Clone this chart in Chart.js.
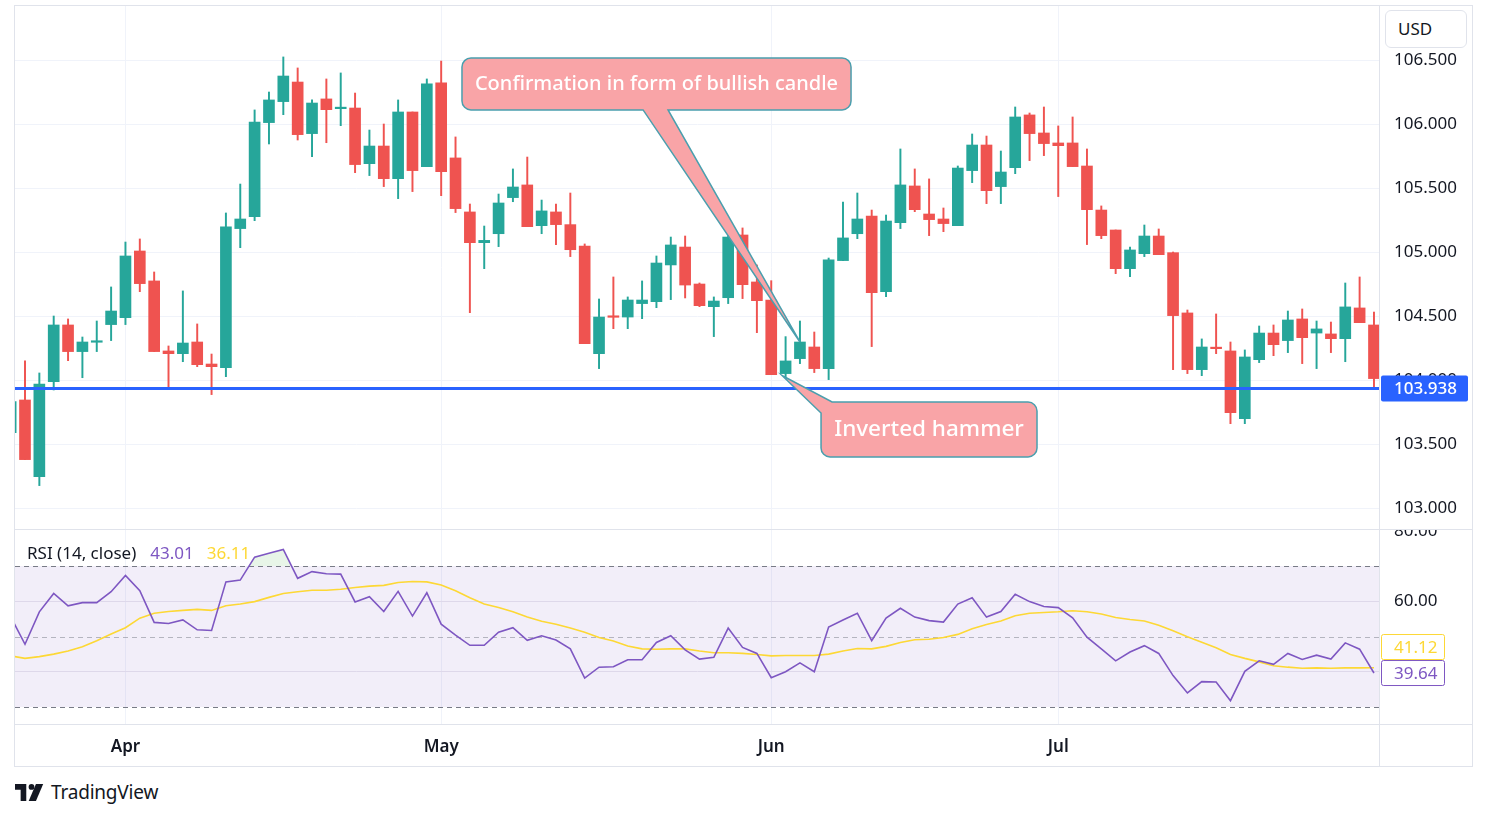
<!DOCTYPE html>
<html>
<head>
<meta charset="utf-8">
<script src="https://cdn.jsdelivr.net/npm/chart.js"></script>
<style>
html,body{margin:0;padding:0;background:#fff;width:1487px;height:819px;overflow:hidden;font-family:'Noto Sans',sans-serif;}
canvas{position:absolute;display:block;}
#priceCanvas{left:15px;top:6px;width:1457px;height:523px;}
#rsiCanvas{left:15px;top:530px;width:1457px;height:236px;}
.ln{position:absolute;background:#e0e3eb;pointer-events:none;}
#frame{position:absolute;left:14px;top:5px;width:1459px;height:762px;border:1px solid #e0e3eb;box-sizing:border-box;pointer-events:none;}
#usd{position:absolute;left:1385px;top:10px;width:82px;height:38px;box-sizing:border-box;border:1px solid #e0e3eb;border-radius:6px;background:#fff;font-size:17px;color:#131722;line-height:36px;padding-left:12px;}
#legend{position:absolute;left:27px;top:542px;font-size:17px;line-height:22px;color:#131722;white-space:nowrap;}
#legend .v1{color:#7e57c2;margin-left:14px;}
#legend .v2{color:#fdd835;margin-left:13px;}
#logo{position:absolute;left:15px;top:781px;height:22px;display:flex;align-items:center;}
#logo span{font-size:19px;color:#131722;margin-left:7px;letter-spacing:-0.2px;}
</style>
</head>
<body>
<canvas id="priceCanvas" width="1457" height="523"></canvas>
<canvas id="rsiCanvas" width="1457" height="236"></canvas>
<div id="frame"></div>
<div class="ln" style="left:14px;top:529px;width:1459px;height:1px;"></div>
<div class="ln" style="left:14px;top:724px;width:1459px;height:1px;"></div>
<div class="ln" style="left:1379px;top:5px;width:1px;height:761px;"></div>
<div id="usd">USD</div>
<div id="legend">RSI (14, close)<span class="v1" id="lv1"></span><span class="v2" id="lv2"></span></div>
<div id="logo">
<svg width="29" height="17" viewBox="0 0 36 21"><path d="M0 0H14V21H7V7H0Z" fill="#131722"/><circle cx="20.5" cy="3.6" r="3.6" fill="#131722"/><path d="M17 21L26 0H35L26 21Z" fill="#131722"/></svg>
<span>TradingView</span></div>

<script>
// ---------------- DATA ----------------
const dates = ['2024-03-19','2024-03-20','2024-03-21','2024-03-22','2024-03-25','2024-03-26','2024-03-27','2024-03-28',
'2024-04-01','2024-04-02','2024-04-03','2024-04-04','2024-04-05','2024-04-08','2024-04-09','2024-04-10','2024-04-11','2024-04-12',
'2024-04-15','2024-04-16','2024-04-17','2024-04-18','2024-04-19','2024-04-22','2024-04-23','2024-04-24','2024-04-25','2024-04-26',
'2024-04-29','2024-04-30',
'2024-05-01','2024-05-02','2024-05-03','2024-05-06','2024-05-07','2024-05-08','2024-05-09','2024-05-10','2024-05-13','2024-05-14',
'2024-05-15','2024-05-16','2024-05-17','2024-05-20','2024-05-21','2024-05-22','2024-05-23','2024-05-24','2024-05-27','2024-05-28',
'2024-05-29','2024-05-30','2024-05-31',
'2024-06-03','2024-06-04','2024-06-05','2024-06-06','2024-06-07','2024-06-10','2024-06-11','2024-06-12','2024-06-13','2024-06-14',
'2024-06-17','2024-06-18','2024-06-19','2024-06-20','2024-06-21','2024-06-24','2024-06-25','2024-06-26','2024-06-27','2024-06-28',
'2024-07-01','2024-07-02','2024-07-03','2024-07-04','2024-07-05','2024-07-08','2024-07-09','2024-07-10','2024-07-11','2024-07-12',
'2024-07-15','2024-07-16','2024-07-17','2024-07-18','2024-07-19','2024-07-22','2024-07-23','2024-07-24','2024-07-25','2024-07-26',
'2024-07-29','2024-07-30','2024-07-31'];

const open = [103.594,103.849,103.25,103.992,104.435,104.227,104.30,104.438,104.492,105.013,
104.779,104.232,104.211,104.302,104.130,104.102,105.188,105.281,106.016,106.18,
106.333,105.93,106.201,106.125,106.13,105.695,105.833,105.578,106.099,105.672,
106.326,105.74,105.318,105.078,105.148,105.43,105.529,105.211,105.318,105.219,
105.052,104.211,104.50,104.497,104.602,104.617,104.904,105.044,104.755,104.578,
104.648,105.138,104.771,104.63,104.055,104.172,104.263,104.094,104.938,105.148,
105.286,104.695,105.234,105.521,105.302,105.263,105.211,105.641,105.841,105.516,
105.664,106.076,105.935,105.857,105.857,105.677,105.333,105.177,104.875,104.992,
105.13,105.0,104.529,104.086,104.258,104.232,103.703,104.164,104.372,104.313,
104.482,104.372,104.365,104.328,104.568,104.435];

const high = [103.88,104.154,104.06,104.505,104.482,104.341,104.466,104.732,105.083,105.107,
104.849,104.271,104.701,104.443,104.208,105.31,105.536,106.115,106.255,106.529,
106.443,106.193,106.357,106.404,106.247,105.958,106.005,106.193,106.099,106.357,
106.497,105.904,105.38,105.208,105.458,105.654,105.747,105.411,105.38,105.466,
105.068,104.638,104.81,104.654,104.779,104.974,105.122,105.13,104.763,104.654,
105.154,105.193,104.904,104.781,104.344,104.466,104.38,104.958,105.396,105.466,
105.333,105.294,105.81,105.654,105.576,105.349,105.677,105.927,105.911,105.794,
106.138,106.091,106.138,105.99,106.06,105.81,105.365,105.177,105.044,105.216,
105.185,105.005,104.552,104.326,104.521,104.302,104.24,104.427,104.435,104.544,
104.56,104.466,104.458,104.763,104.81,104.536];

const low = [103.56,103.383,103.18,103.927,104.156,104.023,104.227,104.313,104.438,104.695,
104.227,103.932,104.148,104.109,103.891,104.031,105.039,105.25,105.849,106.078,
105.88,105.75,105.859,105.992,105.625,105.602,105.516,105.422,105.477,105.672,
105.445,105.313,104.531,104.875,105.047,105.398,105.203,105.148,105.063,104.969,
104.289,104.094,104.406,104.406,104.484,104.57,104.633,104.646,104.578,104.344,
104.602,104.641,104.375,104.047,104.023,104.133,104.063,104.008,104.938,105.109,
104.266,104.656,105.188,105.32,105.133,105.164,105.211,105.547,105.383,105.383,
105.617,105.719,105.758,105.438,105.672,105.063,105.109,104.836,104.813,104.969,
104.984,104.086,104.055,104.039,104.211,103.664,103.664,104.141,104.195,104.219,
104.133,104.094,104.219,104.148,104.453,103.935];

const close = [103.836,103.383,103.974,104.435,104.227,104.302,104.31,104.544,104.974,104.758,
104.227,104.211,104.294,104.125,104.109,105.201,105.263,106.021,106.193,106.38,
105.922,106.169,106.117,106.13,105.688,105.833,105.578,106.099,105.641,106.318,
105.633,105.344,105.078,105.096,105.388,105.513,105.203,105.326,105.219,105.023,
104.289,104.497,104.495,104.63,104.63,104.919,105.06,104.747,104.586,104.622,
105.122,104.75,104.625,104.047,104.154,104.302,104.094,104.943,105.115,105.263,
104.688,105.247,105.529,105.336,105.258,105.227,105.661,105.841,105.484,105.63,
106.06,105.93,105.852,105.836,105.672,105.336,105.133,104.875,105.021,105.13,
104.984,104.508,104.086,104.263,104.25,103.75,104.185,104.372,104.281,104.474,
104.336,104.404,104.328,104.576,104.453,104.016];

const rsi = [55.6,47.8,57.0,62.2,58.7,59.6,59.6,62.7,67.3,63.0,
54.0,53.7,54.7,51.9,51.7,65.5,66.0,72.5,73.6,74.7,
66.5,68.4,67.8,67.7,59.8,61.3,57.1,62.8,55.8,62.4,
53.5,50.4,47.5,47.5,51.2,52.5,48.9,50.2,49.0,46.5,
38.2,41.3,41.4,43.4,43.4,48.3,50.2,46.2,43.6,44.1,
52.4,46.9,45.2,38.3,40.0,42.5,40.0,52.7,54.7,56.6,
48.8,55.2,58.0,55.5,54.5,54.1,59.2,61.0,55.5,57.1,
62.0,59.9,58.5,58.2,55.3,49.8,46.5,43.1,45.6,47.4,
45.2,38.9,34.0,37.2,37.1,31.8,40.1,43.1,42.1,45.2,
43.5,44.7,43.6,48.2,46.4,39.64];

const rsiMa = [44.5,43.8,44.3,45.0,45.9,47.1,48.8,50.7,52.5,55.2,
56.6,57.1,57.4,57.7,57.4,58.7,59.2,59.9,61.1,62.2,
62.7,63.1,63.1,63.4,63.9,64.3,64.5,65.3,65.6,65.5,
64.6,63.0,61.0,59.2,58.2,57.0,55.5,54.3,53.5,52.4,
51.2,49.7,48.7,47.3,46.5,46.4,46.5,46.5,45.9,45.4,
45.4,45.2,44.9,44.5,44.6,44.6,44.6,45.0,45.9,46.6,
46.5,47.2,48.3,49.1,49.2,49.7,50.6,52.2,53.4,54.4,
55.9,56.6,56.8,57.0,57.3,57.0,56.4,55.4,54.8,54.4,
53.2,51.6,49.9,48.4,46.8,44.9,43.8,42.8,41.7,41.3,
41.0,41.1,41.0,41.1,41.1,41.12];

const priceTicks = [103.0,103.5,104.0,104.5,105.0,105.5,106.0,106.5];
const rsiTicks = [40,60,80];
const rsiLevels = [70,50,30];
const monthNames = ['Jan','Feb','Mar','Apr','May','Jun','Jul','Aug','Sep','Oct','Nov','Dec'];
const levelPrice = 103.938;
const legendValues = ['43.01','36.11'];

// ---------------- SETUP ----------------
document.getElementById('lv1').textContent = legendValues[0];
document.getElementById('lv2').textContent = legendValues[1];

const GREEN = '#26a69a', RED = '#ef5350';
const FONT = "'Noto Sans', sans-serif";
const idx = dates.map((d, i) => i);
const colors = idx.map(i => close[i] >= open[i] ? GREEN : RED);
const monthStarts = idx.filter(i => i > 0 && dates[i].slice(5,7) !== dates[i-1].slice(5,7));
const X_MIN = 0.303, X_MAX = 95.42;

function rr(ctx, x, y, w, h, r) {
  ctx.beginPath();
  ctx.moveTo(x + r, y); ctx.lineTo(x + w - r, y); ctx.arcTo(x + w, y, x + w, y + r, r);
  ctx.lineTo(x + w, y + h - r); ctx.arcTo(x + w, y + h, x + w - r, y + h, r);
  ctx.lineTo(x + r, y + h); ctx.arcTo(x, y + h, x, y + h - r, r);
  ctx.lineTo(x, y + r); ctx.arcTo(x, y, x + r, y, r); ctx.closePath();
}

const CALL_FILL = '#f9a4a7', CALL_EDGE = '#4a9fae';

const priceOverlay = {
  id: 'priceOverlay',
  afterDatasetsDraw(chart) {
    const ctx = chart.ctx, xs = chart.scales.x, ys = chart.scales.y;
    const px = v => xs.getPixelForValue(v), py = v => ys.getPixelForValue(v);
    ctx.save();
    ctx.lineWidth = 1.5; ctx.strokeStyle = CALL_EDGE; ctx.fillStyle = CALL_FILL;
    // Callout 1: confirmation, pointer from bottom edge to candle 55
    {
      const L = px(31.45), R = px(58.56), T = py(106.521), B = py(106.115), r = 9;
      const bl = px(44.07), br = px(45.81), tx = px(55), ty = py(close[55]);
      ctx.beginPath();
      ctx.moveTo(L + r, T); ctx.lineTo(R - r, T); ctx.arcTo(R, T, R, T + r, r);
      ctx.lineTo(R, B - r); ctx.arcTo(R, B, R - r, B, r);
      ctx.lineTo(br, B); ctx.lineTo(tx, ty); ctx.lineTo(bl, B);
      ctx.lineTo(L + r, B); ctx.arcTo(L, B, L, B - r, r);
      ctx.lineTo(L, T + r); ctx.arcTo(L, T, L + r, T, r); ctx.closePath();
      ctx.fill(); ctx.stroke();
      ctx.fillStyle = '#ffffff'; ctx.font = '500 20px ' + FONT;
      ctx.textAlign = 'center'; ctx.textBaseline = 'middle';
      ctx.fillText('Confirmation in form of bullish candle', (L + R) / 2, (T + B) / 2);
    }
    ctx.fillStyle = CALL_FILL;
    // Callout 2: inverted hammer, pointer from top-left corner to candle 54 low
    {
      const L = px(56.47), R = px(71.52), T = py(103.833), B = py(103.404), r = 9;
      const topX = px(57.24), leftY = py(103.747), tx = px(53.75), ty = py(104.04);
      ctx.beginPath();
      ctx.moveTo(topX, T); ctx.lineTo(R - r, T); ctx.arcTo(R, T, R, T + r, r);
      ctx.lineTo(R, B - r); ctx.arcTo(R, B, R - r, B, r);
      ctx.lineTo(L + r, B); ctx.arcTo(L, B, L, B - r, r);
      ctx.lineTo(L, leftY); ctx.lineTo(tx, ty); ctx.closePath();
      ctx.fill(); ctx.stroke();
      ctx.fillStyle = '#ffffff'; ctx.font = '500 22.5px ' + FONT;
      ctx.textAlign = 'center'; ctx.textBaseline = 'middle';
      ctx.fillText('Inverted hammer', (L + R) / 2, (T + B) / 2);
    }
    ctx.restore();
  },
  afterDraw(chart) {
    const ctx = chart.ctx, ys = chart.scales.y, area = chart.chartArea;
    const y = ys.getPixelForValue(levelPrice);
    ctx.save();
    ctx.fillStyle = '#2962ff';
    rr(ctx, area.right + 1, y - 13, 87, 26, 2); ctx.fill();
    ctx.fillStyle = '#ffffff'; ctx.font = '500 17px ' + FONT;
    ctx.textAlign = 'left'; ctx.textBaseline = 'middle';
    ctx.fillText(levelPrice.toFixed(3), area.right + 14, y + 1);
    ctx.restore();
  }
};

const rsiOverlay = {
  id: 'rsiOverlay',
  beforeDatasetsDraw(chart) {
    const ctx = chart.ctx, ys = chart.scales.y, a = chart.chartArea;
    const yTop = ys.getPixelForValue(rsiLevels[0]), yBot = ys.getPixelForValue(rsiLevels[2]);
    ctx.save();
    ctx.fillStyle = 'rgba(126,87,194,0.1)';
    ctx.fillRect(a.left, yTop, a.right - a.left, yBot - yTop);
    ctx.lineWidth = 1; ctx.setLineDash([5, 4]);
    rsiLevels.forEach((lv, k) => {
      const y = Math.round(ys.getPixelForValue(lv)) + 0.5;
      ctx.strokeStyle = k === 1 ? 'rgba(120,123,134,0.5)' : '#787b86';
      ctx.beginPath(); ctx.moveTo(a.left, y); ctx.lineTo(a.right, y); ctx.stroke();
    });
    ctx.restore();
  },
  afterDraw(chart) {
    const ctx = chart.ctx, ys = chart.scales.y, a = chart.chartArea;
    const last = rsi.length - 1;
    const yP = ys.getPixelForValue(rsi[last]);
    let yY = ys.getPixelForValue(rsiMa[last]);
    if (Math.abs(yY - yP) < 26) yY = yP - 26;
    const boxes = [[yY, rsiMa[last], '#fdd835'], [yP, rsi[last], '#7e57c2']];
    ctx.save();
    boxes.forEach(([y, v, c]) => {
      ctx.fillStyle = '#ffffff'; ctx.strokeStyle = c; ctx.lineWidth = 1;
      rr(ctx, a.right + 1.5, y - 12.5, 63, 25, 2); ctx.fill(); ctx.stroke();
      ctx.fillStyle = c; ctx.font = '17px ' + FONT;
      ctx.textAlign = 'left'; ctx.textBaseline = 'middle';
      ctx.fillText(v.toFixed(2), a.right + 14, y + 1);
    });
    ctx.restore();
  }
};

const GRID = '#f0f3fa';

new Chart(document.getElementById('priceCanvas'), {
  type: 'bar',
  data: {
    datasets: [
      { label: 'wick', data: idx.map(i => ({ x: i, y: [low[i], high[i]] })), backgroundColor: colors,
        barThickness: 1.3, grouped: false, clip: 0, order: 3 },
      { label: 'body', data: idx.map(i => ({ x: i, y: [open[i], close[i]] })), backgroundColor: colors,
        barThickness: 11, minBarLength: 1.5, grouped: false, clip: 0, order: 2 },
      { type: 'line', label: 'level', data: [{ x: -5, y: levelPrice }, { x: 100, y: levelPrice }],
        borderColor: '#2962ff', borderWidth: 3, pointRadius: 0, clip: 0, order: 1 }
    ]
  },
  options: {
    responsive: false, animation: false, devicePixelRatio: window.devicePixelRatio || 1,
    layout: { padding: 0 },
    plugins: { legend: { display: false }, tooltip: { enabled: false } },
    scales: {
      x: { type: 'linear', min: X_MIN, max: X_MAX, offset: false,
        grid: { color: GRID, drawTicks: false, offset: false }, border: { display: false },
        ticks: { display: false },
        afterBuildTicks: s => { s.ticks = monthStarts.map(v => ({ value: v })); },
        afterFit: s => { s.height = 0; s.paddingLeft = 0; s.paddingRight = 0; } },
      y: { position: 'right', min: 102.841, max: 106.927,
        grid: { color: GRID, drawTicks: false }, border: { display: false },
        ticks: { padding: 14, color: '#131722', font: { family: FONT, size: 17 }, callback: v => Number(v).toFixed(3) },
        afterBuildTicks: s => { s.ticks = priceTicks.map(v => ({ value: v })); },
        afterFit: s => { s.width = 92; s.paddingTop = 0; s.paddingBottom = 0; } }
    }
  },
  plugins: [priceOverlay]
});

new Chart(document.getElementById('rsiCanvas'), {
  type: 'line',
  data: {
    datasets: [
      { label: 'RSI', data: idx.map(i => ({ x: i, y: rsi[i] })), borderColor: '#7e57c2', borderWidth: 1.6,
        pointRadius: 0, tension: 0, clip: 0, order: 1,
        fill: { target: { value: 70 }, above: 'rgba(76,175,80,0.13)', below: 'rgba(0,0,0,0)' } },
      { label: 'RSI MA', data: idx.map(i => ({ x: i, y: rsiMa[i] })), borderColor: '#fdd835', borderWidth: 1.6,
        pointRadius: 0, tension: 0, clip: 0, order: 2, fill: false }
    ]
  },
  options: {
    responsive: false, animation: false, devicePixelRatio: window.devicePixelRatio || 1,
    layout: { padding: 0 },
    plugins: { legend: { display: false }, tooltip: { enabled: false } },
    scales: {
      x: { type: 'linear', min: X_MIN, max: X_MAX, offset: false,
        grid: { color: GRID, drawTicks: false, offset: false }, border: { display: false },
        ticks: { padding: 13, color: '#131722', maxRotation: 0, autoSkip: false,
          font: { family: FONT, size: 17, weight: '600' },
          callback: v => monthNames[parseInt(dates[v].slice(5,7), 10) - 1] },
        afterBuildTicks: s => { s.ticks = monthStarts.map(v => ({ value: v })); },
        afterFit: s => { s.height = 42; s.paddingLeft = 0; s.paddingRight = 0; } },
      y: { position: 'right', min: 25.18, max: 80.21,
        grid: { color: c => (c.tick && c.tick.value === 80) ? 'rgba(0,0,0,0)' : '#e9e7ef', drawTicks: false },
        border: { display: false },
        ticks: { padding: 14, color: '#131722', font: { family: FONT, size: 17 },
          callback: v => (v === 40 ? '' : Number(v).toFixed(2)) },
        afterBuildTicks: s => { s.ticks = rsiTicks.map(v => ({ value: v })); },
        afterFit: s => { s.width = 92; s.paddingTop = 0; s.paddingBottom = 0; } }
    }
  },
  plugins: [rsiOverlay]
});
</script>
</body>
</html>
